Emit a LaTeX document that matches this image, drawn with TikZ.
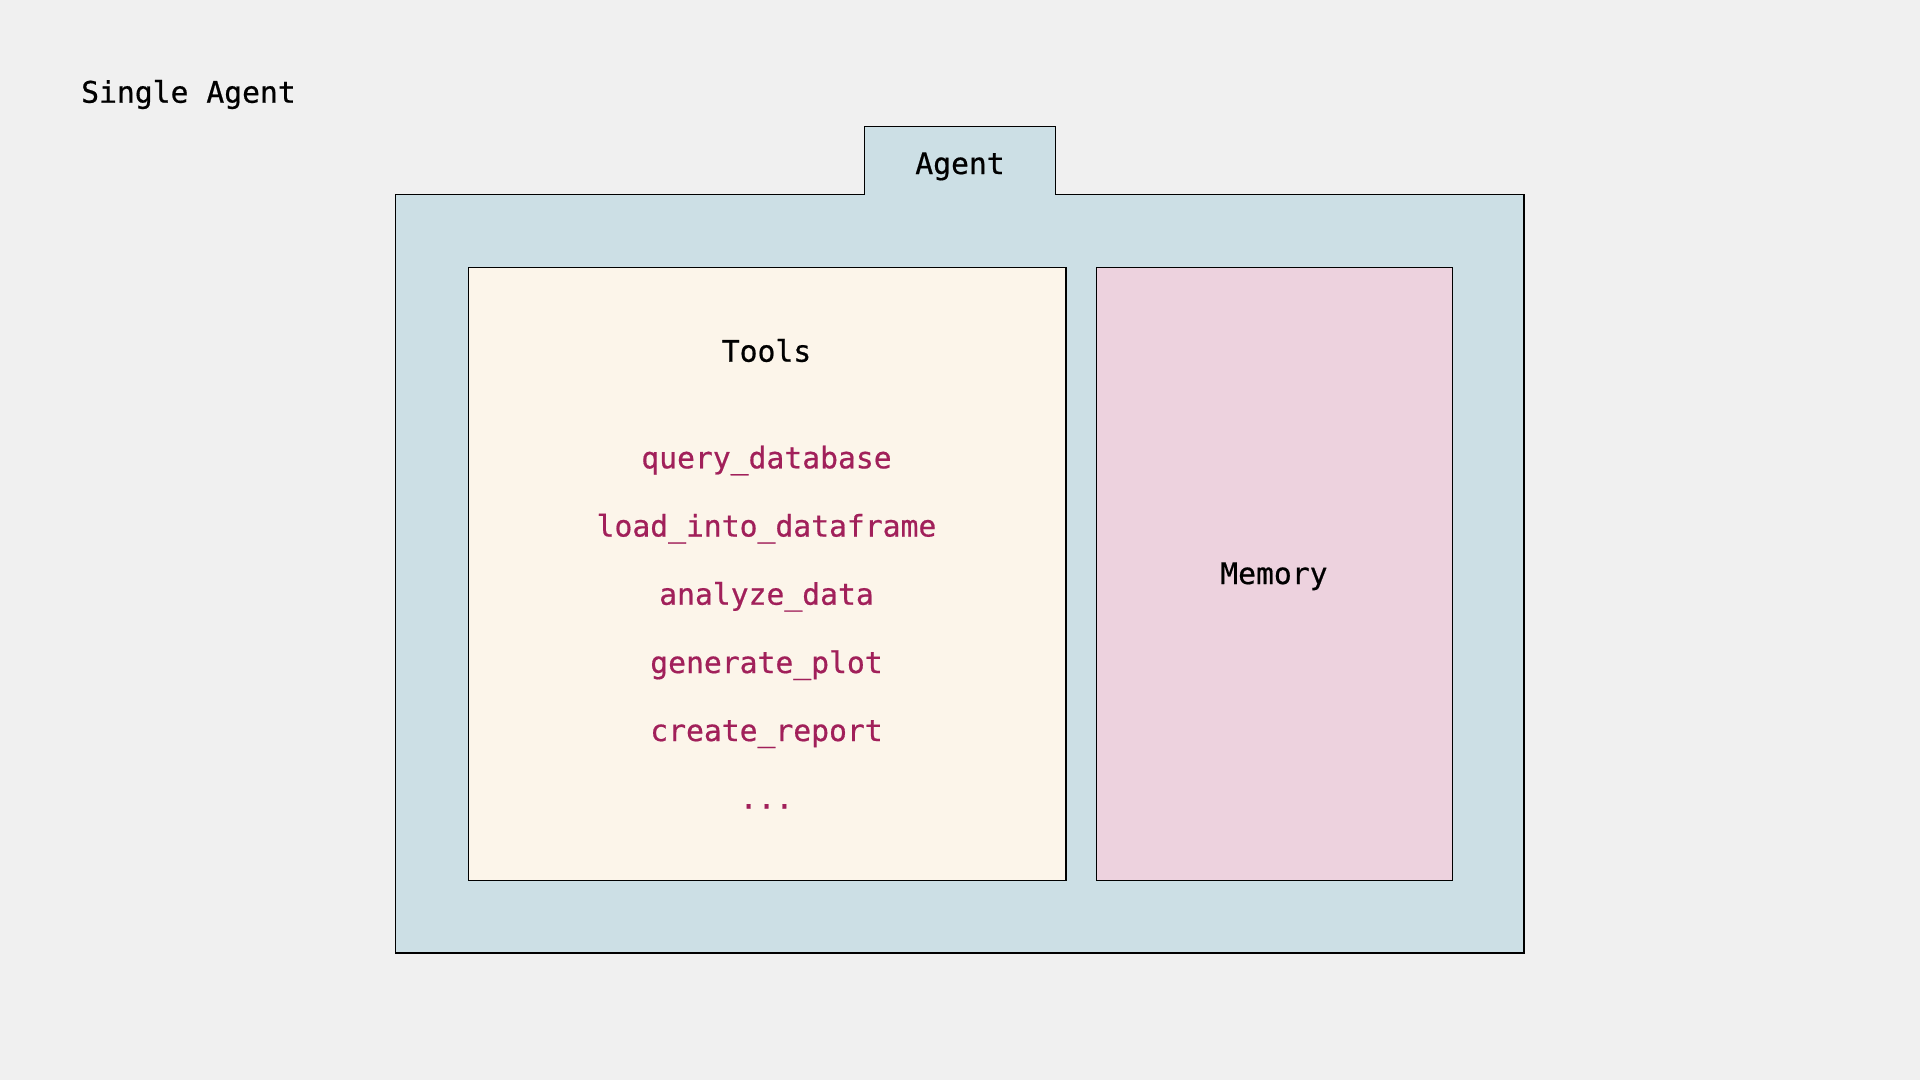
\documentclass[tikz,border=0pt]{standalone}
\usepackage{fontspec}
\newfontfamily\mono[FakeBold=0.6]{DejaVu Sans Mono}
\definecolor{bgc}{RGB}{240,240,240}
\definecolor{agentc}{RGB}{204,223,229}
\definecolor{toolsc}{RGB}{252,245,234}
\definecolor{memc}{RGB}{237,210,222}
\definecolor{toolred}{RGB}{161,32,90}
\begin{document}
\begin{tikzpicture}[x=1pt,y=-1pt,
  lbl/.style={font=\mono\fontsize{29.7}{36}\selectfont, inner sep=0pt, anchor=base, text=black},
  toolitem/.style={lbl, text=toolred},
  panel/.style={draw=black, line width=1.2pt, inner sep=0pt, anchor=north west}]
\useasboundingbox[fill=bgc] (0,0) rectangle (1920,1080);
% outer agent shape with tab
\draw[fill=agentc, line width=1.2pt] (395.5,953) -- (395.5,194.5) -- (864.5,194.5) -- (864.5,126.3) -- (1055.5,126.3) -- (1055.5,194.5) -- (1524,194.5) -- (1524,953) -- cycle;
\node[panel, fill=toolsc, minimum width=597.5pt, minimum height=613pt] (tools) at (467.8,267) {};
\node[panel, fill=memc, minimum width=355.7pt, minimum height=613pt] (memory) at (1096,267) {};
\node[lbl, anchor=base west] (title) at (81,102.7) {Single Agent};
\node[lbl] (agent) at (960,174) {Agent};
\node[lbl] (toolstitle) at (766.5,361.7) {Tools};
\node[toolitem] (t1) at (766.5,468.3) {query\_database};
\node[toolitem] (t2) at (766.5,536.5) {load\_into\_dataframe};
\node[toolitem] (t3) at (766.5,604.7) {analyze\_data};
\node[toolitem] (t4) at (766.5,673) {generate\_plot};
\node[toolitem] (t5) at (766.5,741) {create\_report};
\node[toolitem] (t6) at (766.5,808.5) {...};
\node[lbl] (memlabel) at (1273.9,584) {Memory};
\end{tikzpicture}
\end{document}
